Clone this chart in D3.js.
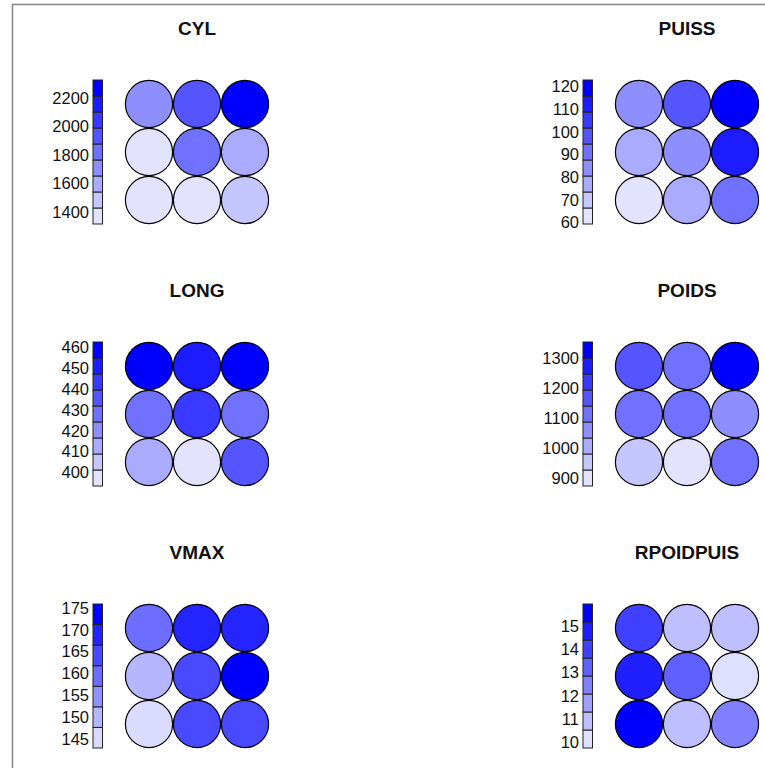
<!DOCTYPE html>
<html>
<head>
<meta charset="utf-8">
<script src="https://cdn.jsdelivr.net/npm/d3@7"></script>
<style>
  html, body { margin: 0; padding: 0; background: #fff; }
  svg { display: block; }
  text { font-family: "Liberation Sans", Arial, sans-serif; }
</style>
</head>
<body>
<svg id="chart" width="765" height="768"></svg>
<script>
// Variable names, one panel each (read row by row, two panels per row)
const variables = ["CYL", "PUISS", "LONG", "POIDS", "VMAX", "RPOIDPUIS"];

// Codebook value of each of the 3x3 map units, listed from the top row down, left to right
const cylValues   = [1708, 1934, 2328, 1330, 1820, 1595, 1314, 1340, 1480];
const puissValues = [83.6, 97.8, 122.8, 76.5, 84.4, 111.9, 59.4, 77.3, 90.6];
const longValues  = [462.7, 451.0, 461.5, 428.0, 443.2, 427.4, 412.5, 393.4, 435.6];
const poidsValues = [1166, 1112, 1355, 1108, 1120, 1058, 955, 874, 1115];
const vmaxValues  = [159.3, 168.6, 168.9, 149.8, 164.0, 175.9, 142.9, 164.4, 163.8];
const rpoidValues = [14.0, 10.9, 10.95, 14.8, 13.2, 9.76, 15.94, 10.9, 12.45];

// Tick labels of each colour key
const cylTicks   = [1400, 1600, 1800, 2000, 2200];
const puissTicks = [60, 70, 80, 90, 100, 110, 120];
const longTicks  = [400, 410, 420, 430, 440, 450, 460];
const poidsTicks = [900, 1000, 1100, 1200, 1300];
const vmaxTicks  = [145, 150, 155, 160, 165, 170, 175];
const rpoidTicks = [10, 11, 12, 13, 14, 15];

// Number of colour classes in each key
const colorClasses = [9, 9, 9, 9, 7, 8];

const panelValues = [cylValues, puissValues, longValues, poidsValues, vmaxValues, rpoidValues];
const panelTicks  = [cylTicks, puissTicks, longTicks, poidsTicks, vmaxTicks, rpoidTicks];

const svg = d3.select("#chart");

// outer frame
svg.append("rect")
  .attr("x", 12.5).attr("y", 4.5)
  .attr("width", 800).attr("height", 800)
  .attr("fill", "none")
  .attr("stroke", "#8c8c8c")
  .attr("stroke-width", 1.6);

// panel placement
const panelCol = d3.scalePoint().domain([0, 1]).range([197, 687]);
const panelRow = d3.scalePoint().domain([0, 1, 2]).range([152, 676]);

const step = 48;
const radius = 23.6;
const unitOffset = d3.scalePoint().domain([0, 1, 2]).range([-step, step]);

variables.forEach((name, p) => {
  const values = panelValues[p];
  const ticks = panelTicks[p];
  const n = colorClasses[p];
  const cx = panelCol(p % 2);
  const cy = panelRow(Math.floor(p / 2));

  const [vmin, vmax] = d3.extent(values);
  const palette = d3.range(n).map(k => d3.interpolateRgb("white", "blue")((k + 1) / n));
  const color = d3.scaleQuantize().domain([vmin, vmax]).range(palette);

  const g = svg.append("g");

  // title
  g.append("text")
    .attr("x", cx)
    .attr("y", cy - 117)
    .attr("text-anchor", "middle")
    .attr("font-size", 19)
    .attr("font-weight", "bold")
    .attr("fill", "#111")
    .text(name);

  // map units
  g.selectAll("circle")
    .data(values)
    .join("circle")
    .attr("cx", (d, i) => cx + unitOffset(i % 3))
    .attr("cy", (d, i) => cy + unitOffset(Math.floor(i / 3)))
    .attr("r", radius)
    .attr("fill", d => color(d))
    .attr("stroke", "#000")
    .attr("stroke-width", 1.2);

  // colour key
  const keyX = cx - 104;
  const keyW = 9.5;
  const keyScale = d3.scaleLinear().domain([vmin, vmax]).range([cy + 72, cy - 72]);
  const width = (vmax - vmin) / n;
  g.selectAll("rect.key")
    .data(palette)
    .join("rect")
    .attr("class", "key")
    .attr("x", keyX)
    .attr("y", (d, k) => keyScale(vmin + (k + 1) * width))
    .attr("width", keyW)
    .attr("height", (d, k) => keyScale(vmin + k * width) - keyScale(vmin + (k + 1) * width))
    .attr("fill", d => d)
    .attr("stroke", "#222")
    .attr("stroke-width", 1);

  const axis = d3.axisLeft(keyScale)
    .tickValues(ticks)
    .tickFormat(d3.format("d"))
    .tickSize(0)
    .tickPadding(4);
  const ag = g.append("g")
    .attr("transform", `translate(${keyX},0)`)
    .call(axis);
  ag.select(".domain").remove();
  ag.selectAll("text")
    .attr("font-size", 16.5)
    .attr("font-family", "'Liberation Sans', Arial, sans-serif")
    .attr("fill", "#111");
});
</script>
</body>
</html>
